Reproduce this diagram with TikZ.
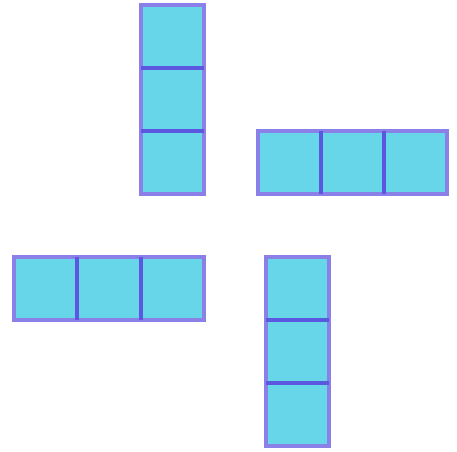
\documentclass[tikz,border=0pt]{standalone}
\definecolor{cellfill}{HTML}{66D6E8}
\definecolor{outerline}{HTML}{8B80E8}
\definecolor{innerline}{HTML}{5B58DF}
\tikzset{
  cellbox/.style={fill=cellfill, draw=none},
  outerbox/.style={draw=outerline, line width=4pt},
  divider/.style={draw=innerline, line width=4pt},
}
\begin{document}
\begin{tikzpicture}[x=1pt,y=-1pt]
\useasboundingbox (0,0) rectangle (457,451);
% top vertical
\fill[cellfill] (141,4.5) rectangle (204,193.5);
\draw[outerbox] (141,4.5) rectangle (204,193.5);
\coordinate (t1l) at (141,67.5); \coordinate (t1r) at (204,67.5);
\coordinate (t2l) at (141,130.5); \coordinate (t2r) at (204,130.5);
\draw[divider] (t1l) -- (t1r);
\draw[divider] (t2l) -- (t2r);
% right horizontal
\fill[cellfill] (258,130.5) rectangle (447,193.5);
\draw[outerbox] (258,130.5) rectangle (447,193.5);
\coordinate (r1t) at (321,130.5); \coordinate (r1b) at (321,193.5);
\coordinate (r2t) at (384,130.5); \coordinate (r2b) at (384,193.5);
\draw[divider] (r1t) -- (r1b);
\draw[divider] (r2t) -- (r2b);
% left horizontal
\fill[cellfill] (13.5,256.5) rectangle (204,319.5);
\draw[outerbox] (13.5,256.5) rectangle (204,319.5);
\coordinate (l1t) at (77,256.5); \coordinate (l1b) at (77,319.5);
\coordinate (l2t) at (140.5,256.5); \coordinate (l2b) at (140.5,319.5);
\draw[divider] (l1t) -- (l1b);
\draw[divider] (l2t) -- (l2b);
% bottom vertical
\fill[cellfill] (266,256.5) rectangle (329,446);
\draw[outerbox] (266,256.5) rectangle (329,446);
\coordinate (b1l) at (266,319.5); \coordinate (b1r) at (329,319.5);
\coordinate (b2l) at (266,382.5); \coordinate (b2r) at (329,382.5);
\draw[divider] (b1l) -- (b1r);
\draw[divider] (b2l) -- (b2r);
\end{tikzpicture}
\end{document}
